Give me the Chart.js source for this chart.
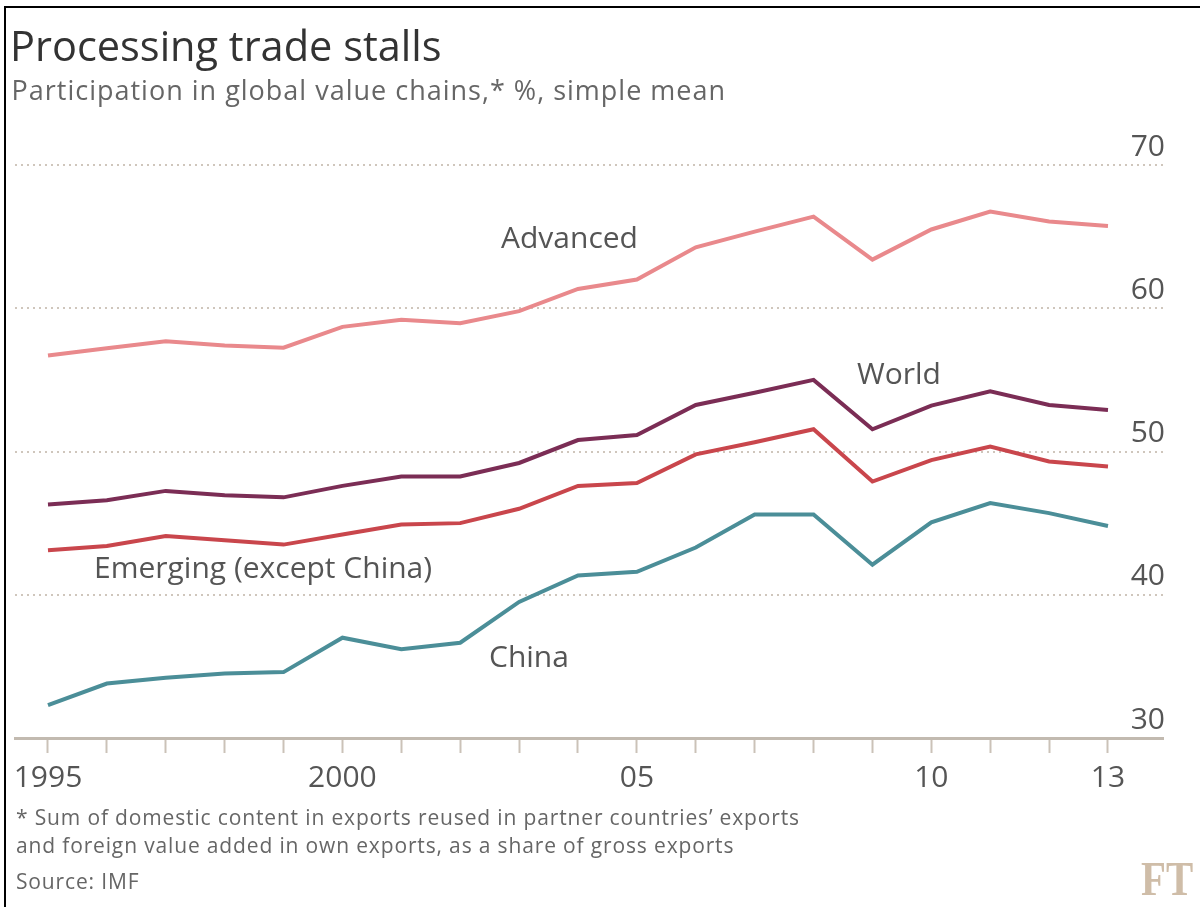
<!DOCTYPE html>
<html>
<head>
<meta charset="utf-8">
<script src="https://cdn.jsdelivr.net/npm/chart.js@4.4.1/dist/chart.umd.min.js"></script>
<style>
  html, body { margin: 0; padding: 0; background: #fff; }
  body { width: 1200px; height: 907px; position: relative; overflow: hidden; font-family: "Open Sans", sans-serif; }
  #frame { position: absolute; left: 4px; top: 6px; right: 0; bottom: 0; border-top: 2px solid #000; border-left: 2px solid #000; pointer-events: none; }
  #wrap { position: absolute; left: 0; top: 0; width: 1200px; height: 907px; }
  .t { position: absolute; white-space: nowrap; line-height: 1; }
  #title { left: 10px; top: 25.2px; font-size: 41.5px; color: #333; }
  #subtitle { left: 11.5px; top: 76px; font-size: 27px; letter-spacing: 1px; color: #666; }
  .lab { font-size: 30px; color: #555; }
  .note { font-size: 21px; letter-spacing: 0.85px; color: #666; left: 16px; }
  #ft { left: 1141px; top: 855px; font-family: "Liberation Serif", serif; font-weight: bold; font-size: 48px; color: #cfbda8; transform: scaleX(0.85); transform-origin: left top; }
</style>
</head>
<body>
<div id="wrap"><canvas id="c" width="1200" height="907"></canvas></div>
<div id="frame"></div>
<div class="t" id="title">Processing trade stalls</div>
<div class="t" id="subtitle">Participation in global value chains,* %, simple mean</div>
<div class="t lab" style="left:501px; top:222.4px;">Advanced</div>
<div class="t lab" style="left:857px; top:358.4px;">World</div>
<div class="t lab" style="left:94px; top:552.4px;">Emerging (except China)</div>
<div class="t lab" style="left:489px; top:641.4px;">China</div>
<div class="t note" style="top:807.4px;">* Sum of domestic content in exports reused in partner countries’ exports</div>
<div class="t note" style="top:835.4px;">and foreign value added in own exports, as a share of gross exports</div>
<div class="t note" style="top:871.4px;">Source: IMF</div>
<div class="t" id="ft">FT</div>
<script>
const years = [1995,1996,1997,1998,1999,2000,2001,2002,2003,2004,2005,2006,2007,2008,2009,2010,2011,2012,2013];
const xTickLabels = ['1995','','','','','2000','','','','','05','','','','','10','','','13'];
const yTicks = [30,40,50,60,70];
const advanced = [56.7,57.2,57.7,57.4,57.25,58.7,59.2,58.95,59.8,61.35,62.0,64.25,65.35,66.4,63.4,65.5,66.75,66.05,65.75];
const world    = [46.3,46.6,47.25,46.95,46.8,47.6,48.25,48.25,49.2,50.8,51.15,53.25,54.1,55.0,51.55,53.2,54.2,53.25,52.9];
const emerging = [43.1,43.4,44.1,43.8,43.5,44.2,44.9,45.0,46.0,47.6,47.8,49.8,50.65,51.55,47.9,49.4,50.35,49.3,48.95];
const china    = [32.3,33.8,34.2,34.5,34.6,37.0,36.2,36.65,39.5,41.35,41.6,43.3,45.6,45.6,42.1,45.05,46.4,45.7,44.8];

function series(label, vals, color) {
  return {
    label, data: years.map((y, i) => ({x: y, y: vals[i]})),
    borderColor: color, borderWidth: 4, pointRadius: 0, tension: 0, fill: false,
    borderJoinStyle: 'miter', borderCapStyle: 'butt'
  };
}

function build() {
  new Chart(document.getElementById('c'), {
    type: 'line',
    data: {
      datasets: [
        series('Advanced', advanced, '#e9898c'),
        series('World', world, '#7b2d55'),
        series('Emerging (except China)', emerging, '#c9464c'),
        series('China', china, '#4b8e98')
      ]
    },
    options: {
      responsive: false, animation: false,
      layout: { padding: { top: 165, left: 15, right: 37, bottom: 109 } },
      plugins: { legend: { display: false }, tooltip: { enabled: false }, title: { display: false } },
      scales: {
        x: {
          type: 'linear', min: 1994.44, max: 2013.934,
          afterBuildTicks: s => { s.ticks = years.map(v => ({value: v})); },
          afterFit: s => { s.height = 60; },
          grid: { drawOnChartArea: false, drawTicks: true, tickLength: 15, tickColor: '#cbc2b8', tickWidth: 2 },
          border: { display: true, color: '#c2bab0', width: 3 },
          ticks: {
            autoSkip: false, maxRotation: 0, padding: 7, color: '#555',
            font: { family: 'Open Sans', size: 30 },
            callback: (v) => { const i = years.indexOf(v); return i >= 0 ? xTickLabels[i] : ''; }
          }
        },
        y: {
          type: 'linear', position: 'right', min: 30, max: 70,
          afterBuildTicks: s => { s.ticks = yTicks.map(v => ({value: v})); },
          afterFit: s => { s.width = 0; },
          grid: { drawTicks: false, lineWidth: 2, color: c => (c.tick && c.tick.value === 30) ? 'rgba(0,0,0,0)' : '#cfc6bc' },
          border: { display: false, dash: [2, 4] },
          ticks: {
            mirror: true, padding: 2, labelOffset: -18, color: '#555',
            font: { family: 'Open Sans', size: 30 }
          }
        }
      }
    }
  });
}
if (document.fonts && document.fonts.load) {
  Promise.all([document.fonts.load('30px "Open Sans"'), document.fonts.load('bold 48px "Liberation Serif"')]).then(build, build);
} else { build(); }
</script>
</body>
</html>
